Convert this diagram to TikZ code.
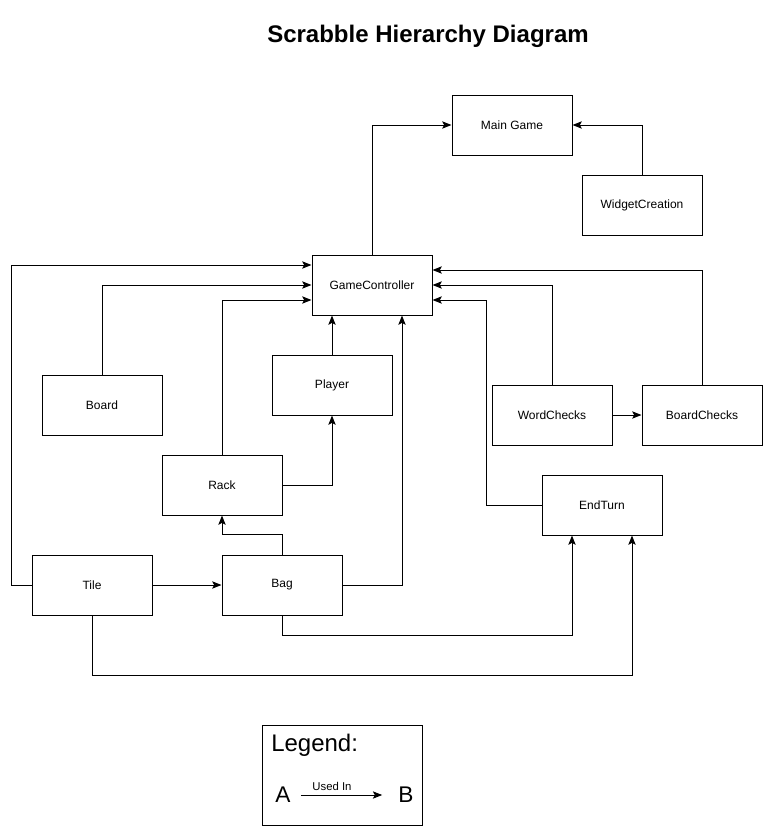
\documentclass[tikz,border=0pt]{standalone}
\usepackage{fontspec}
\setmainfont{Liberation Sans}
\usetikzlibrary{arrows.meta,calc}
\begin{document}
\begin{tikzpicture}[x=0.75pt,y=-0.75pt]
    \tikzset{every node/.append style={inner sep=0pt}}
    \tikzset{cls/.style={draw,line width=0.75pt,minimum width=90pt,minimum height=45pt,font=\fontsize{9}{11}\selectfont}}
    \tikzset{use/.style={line width=0.75pt,-{Stealth[length=7pt,width=5.5pt,inset=1.5pt]}}}
    \useasboundingbox (0,0) rectangle (768,832);
    \node [font=\bfseries\fontsize{18}{21}\selectfont] (title) at (428,36) {Scrabble Hierarchy Diagram};
    % classes
    \node [cls] (main) at (512,125) {Main Game};
    \node [cls] (widget) at (642,205) {WidgetCreation};
    \node [cls] (gc) at (372,285) {GameController};
    \node [cls] (player) at (332,385) {Player};
    \node [cls] (board) at (102,405) {Board};
    \node [cls] (words) at (552,415) {WordChecks};
    \node [cls] (bchecks) at (702,415) {BoardChecks};
    \node [cls] (rack) at (222,485) {Rack};
    \node [cls] (endturn) at (602,505) {EndTurn};
    \node [cls] (tile) at (92,585) {Tile};
    \node [cls] (bag) at (282,585) {Bag};
    % used-in links
    \draw [use] (gc.north) |- (main.west);
    \draw [use] (widget.north) |- (main.east);
    \draw [use] (tile.west) -- ++(-20,0) |- ($(gc.west)+(0,-20)$);
    \draw [use] (board.north) |- (gc.west);
    \draw [use] (rack.north) |- ($(gc.west)+(0,15)$);
    \draw [use] (player.north) -- (player.north |- gc.south);
    \draw [use] (rack.east) -| (player.south);
    \draw [use] (bag.north) -- ++(0,-20) -| (rack.south);
    \draw [use] (bag.east) -| ($(gc.south)+(30,0)$);
    \draw [use] (tile.east) -- (bag.west);
    \draw [use] (bag.south) -- ++(0,20) -| ($(endturn.south)+(-30,0)$);
    \draw [use] (tile.south) -- ++(0,60) -| ($(endturn.south)+(30,0)$);
    \draw [use] (endturn.west) -- ++(-55,0) |- ($(gc.east)+(0,15)$);
    \draw [use] (words.north) |- (gc.east);
    \draw [use] (bchecks.north) |- ($(gc.east)+(0,-15)$);
    \draw [use] (words.east) -- (bchecks.west);
    % legend
    \node [draw,line width=0.75pt,minimum width=120pt,minimum height=75pt] (legend) at (342,775) {};
    \node [anchor=west,font=\fontsize{18}{21}\selectfont] (legtitle) at (271,745) {Legend:};
    \node [font=\fontsize{17}{20}\selectfont] (la) at (283,795) {A};
    \node [font=\fontsize{17}{20}\selectfont] (lb) at (406,795) {B};
    \draw [use] ($(la.east)+(10,0)$) -- ($(lb.west)+(-16,0)$);
    \node [font=\fontsize{8.5}{10}\selectfont] (usedin) at (332,786) {Used In};
\end{tikzpicture}
\end{document}
